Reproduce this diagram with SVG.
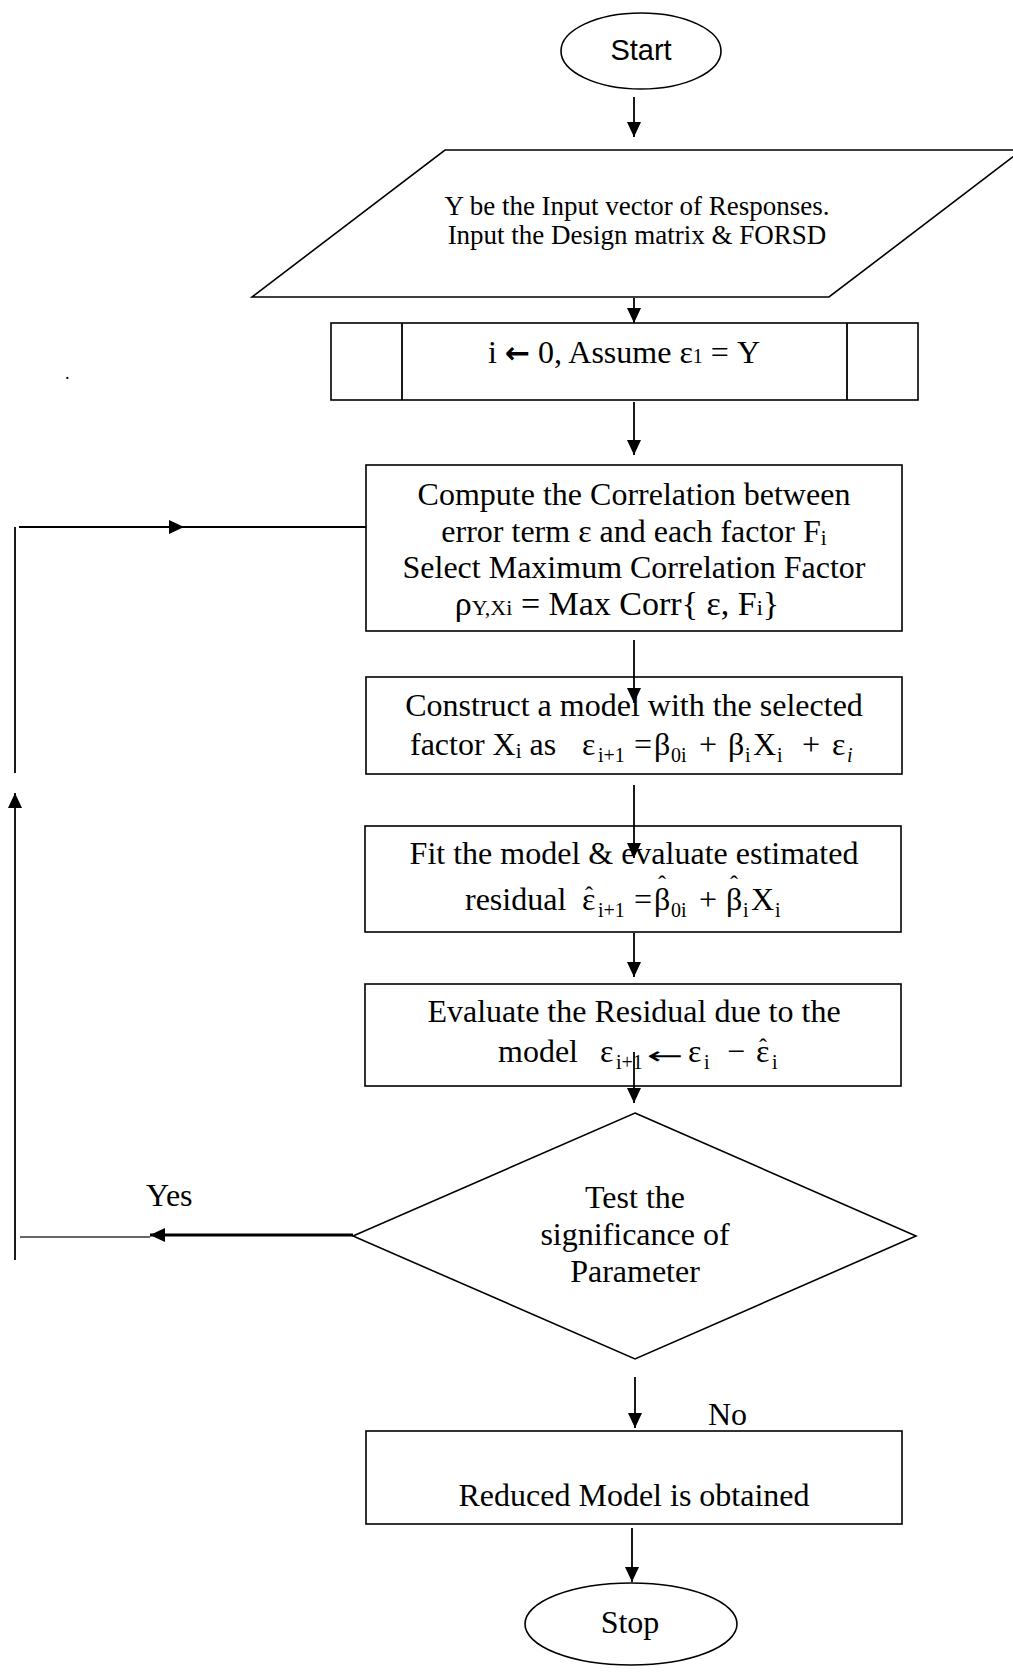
<svg xmlns="http://www.w3.org/2000/svg" width="1013" height="1674" viewBox="0 0 1013 1674">
<style>
.sh{fill:#fff;stroke:#000;stroke-width:1.6}
.ln{fill:none;stroke:#000;stroke-width:1.8}
.t{font-family:"Liberation Serif","Times New Roman",serif;font-size:32px;fill:#000}
.m{text-anchor:middle}
.s{font-size:20px}
.h{font-family:"Liberation Serif","Times New Roman",serif;font-size:24px;fill:#000}
</style>
<defs>
<marker id="ah" markerUnits="userSpaceOnUse" markerWidth="16" markerHeight="14" refX="15" refY="7" orient="auto">
<path d="M0,0 L15,7 L0,14 z" fill="#000"/>
</marker>
</defs>
<rect width="1013" height="1674" fill="#fff"/>

<g id="start">
<ellipse class="sh" cx="641" cy="51" rx="80" ry="38"/>
<text x="641" y="60" class="m" font-family="Liberation Sans, Arial, sans-serif" font-size="29">Start</text>
</g>

<g id="input">
<polygon class="sh" points="445,150 1022,150 829,297 252,297"/>
<text class="t m" x="637" y="215" style="font-size:27px">Y be the Input vector of Responses.</text>
<text class="t m" x="637" y="244" style="font-size:27px">Input the Design matrix &amp; FORSD</text>
</g>

<g id="init">
<rect class="sh" x="331" y="323" width="587" height="77"/>
<line class="ln" x1="402" y1="323" x2="402" y2="400" stroke-width="1.6"/>
<line class="ln" x1="847" y1="323" x2="847" y2="400" stroke-width="1.6"/>
<text class="t m" x="624" y="363">i <tspan font-family="DejaVu Sans, sans-serif" font-weight="bold" font-size="30">←</tspan> 0, Assume ε<tspan font-size="20">1</tspan> = Y</text>
</g>

<g id="compute">
<rect class="sh" x="366" y="465" width="536" height="166"/>
<text class="t m" x="634" y="505">Compute the Correlation between</text>
<text class="t m" x="634" y="542">error term ε and each factor F<tspan font-size="21" dy="3">i</tspan></text>
<text class="t m" x="634" y="578">Select Maximum Correlation Factor</text>
<text class="t m" x="617" y="615" style="font-size:34px">ρ<tspan font-size="22">Y,Xi</tspan> = Max Corr{ ε, F<tspan font-size="22">i</tspan>}</text>
</g>

<g id="construct">
<rect class="sh" x="366" y="677" width="536" height="97"/>
<text class="t m" x="634" y="716">Construct a model with the selected</text>
<text class="t" y="755"><tspan x="410">factor X<tspan font-size="21" dy="3">i</tspan><tspan dy="-3"> as</tspan></tspan><tspan x="582">ε</tspan><tspan class="s" x="598" dy="7">i+1</tspan><tspan x="634" dy="-7">=</tspan><tspan x="654">β</tspan><tspan class="s" x="671" dy="7">0i</tspan><tspan x="699" dy="-7">+</tspan><tspan x="728">β</tspan><tspan class="s" x="745" dy="7">i</tspan><tspan x="753" dy="-7">X</tspan><tspan class="s" x="777" dy="7">i</tspan><tspan x="802" dy="-7">+</tspan><tspan x="832">ε</tspan><tspan class="s" x="847" dy="7" font-style="italic">i</tspan></text>
</g>

<g id="fit">
<rect class="sh" x="365" y="826" width="536" height="106"/>
<text class="t m" x="634" y="864">Fit the model &amp; evaluate estimated</text>
<text class="t" y="910"><tspan x="465">residual</tspan><tspan x="582">ε</tspan><tspan class="s" x="598" dy="7">i+1</tspan><tspan x="634" dy="-7">=</tspan><tspan x="654">β</tspan><tspan class="s" x="671" dy="7">0i</tspan><tspan x="699" dy="-7">+</tspan><tspan x="726">β</tspan><tspan class="s" x="743" dy="7">i</tspan><tspan x="751" dy="-7">X</tspan><tspan class="s" x="775" dy="7">i</tspan></text>
<text class="h" x="585" y="903">ˆ</text>
<text class="h" x="658" y="892">ˆ</text>
<text class="h" x="730" y="892">ˆ</text>
</g>

<g id="evaluate">
<rect class="sh" x="365" y="984" width="536" height="102"/>
<text class="t m" x="634" y="1022">Evaluate the Residual due to the</text>
<text class="t" y="1062"><tspan x="498">model</tspan><tspan x="600">ε</tspan><tspan class="s" x="616" dy="7">i+1</tspan><tspan x="688" dy="-7">ε</tspan><tspan class="s" x="704" dy="7">i</tspan><tspan x="727" dy="-7">−</tspan><tspan x="756">ε</tspan><tspan class="s" x="772" dy="7">i</tspan></text>
<text transform="translate(647,1064) scale(1.45,0.8)" x="0" y="0" font-family="DejaVu Sans, sans-serif" font-size="30" fill="#000">←</text>
<text class="h" x="759" y="1055">ˆ</text>
</g>

<g id="decision">
<polygon class="sh" points="635,1113 916,1236 635,1359 353,1236"/>
<text class="t m" x="635" y="1208">Test the</text>
<text class="t m" x="635" y="1245">significance of</text>
<text class="t m" x="635" y="1282">Parameter</text>
</g>

<g id="labels">
<text class="t" x="146" y="1206">Yes</text>
<text class="t" x="708" y="1425">No</text>
<text class="t" x="65" y="379" style="font-size:18px">.</text>
</g>

<g id="reduced">
<rect class="sh" x="366" y="1431" width="536" height="93"/>
<text class="t m" x="634" y="1506">Reduced Model is obtained</text>
</g>

<g id="stop">
<ellipse class="sh" cx="631" cy="1624" rx="106" ry="41"/>
<text class="t m" x="630" y="1633">Stop</text>
</g>

<g id="connectors">
<line class="ln" x1="634" y1="97" x2="634" y2="137" marker-end="url(#ah)"/>
<line class="ln" x1="634" y1="298" x2="634" y2="323" marker-end="url(#ah)"/>
<line class="ln" x1="634" y1="402" x2="634" y2="455" marker-end="url(#ah)"/>
<line class="ln" x1="634" y1="640" x2="634" y2="703" marker-end="url(#ah)"/>
<line class="ln" x1="634" y1="785" x2="634" y2="858" marker-end="url(#ah)"/>
<line class="ln" x1="634" y1="933" x2="634" y2="977" marker-end="url(#ah)"/>
<line class="ln" x1="634" y1="1052" x2="634" y2="1103" marker-end="url(#ah)"/>
<line x1="353" y1="1235" x2="150" y2="1235" stroke="#000" stroke-width="3" marker-end="url(#ah)"/>
<line x1="150" y1="1237" x2="20" y2="1237" stroke="#333" stroke-width="1.6"/>
<line class="ln" x1="15" y1="1260" x2="15" y2="793" marker-end="url(#ah)"/>
<line class="ln" x1="15" y1="773" x2="15" y2="527"/>
<line class="ln" x1="19" y1="527" x2="184" y2="527" marker-end="url(#ah)"/>
<line class="ln" x1="184" y1="527" x2="366" y2="527"/>
<line class="ln" x1="635" y1="1377" x2="635" y2="1428" marker-end="url(#ah)"/>
<line class="ln" x1="632" y1="1528" x2="632" y2="1582" marker-end="url(#ah)"/>
</g>
</svg>
